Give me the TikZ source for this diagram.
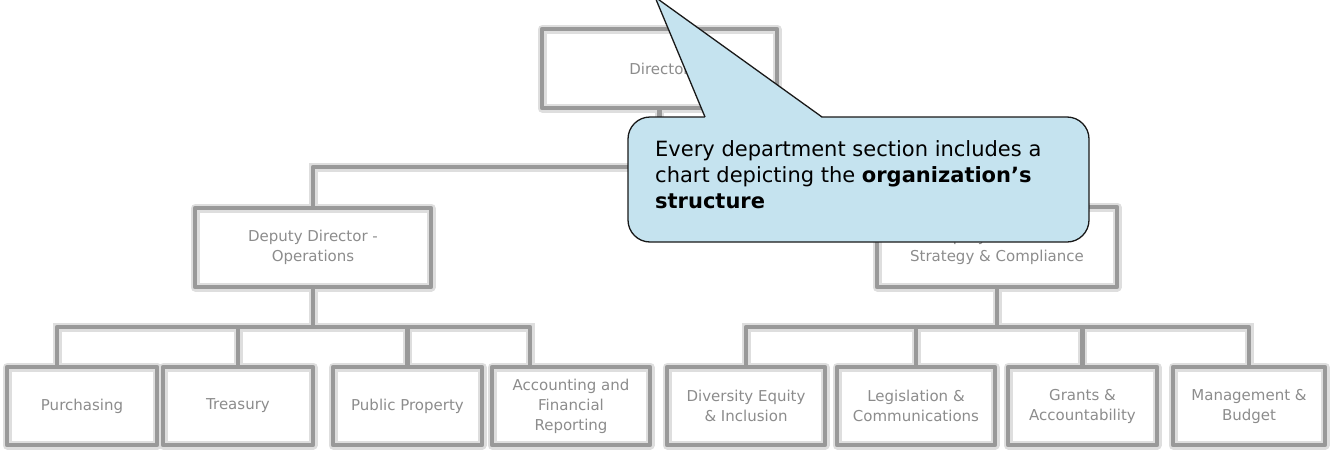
\documentclass[tikz,border=0pt]{standalone}
\usepackage{fontspec}
\setmainfont{DejaVu Sans}
\definecolor{calloutblue}{RGB}{197,227,239}
\begin{document}
\begin{tikzpicture}[x=1pt,y=-1pt,
  chart/.style={draw=black!40, line width=4.5pt, line join=round,
    preaction={draw=black!13, line width=9pt}},
  chartbox/.style={chart, rectangle, inner sep=2pt, align=center,
    font=\fontsize{15}{20}\selectfont, text=black!45},
  callout/.style={fill=calloutblue, draw=black!90, line width=1.3pt}]
\useasboundingbox (0,0) rectangle (1333,450);
% boxes
\node[chartbox, minimum width=235pt, minimum height=79pt] (dir) at (659.5,68.5) {Director};
\node[chartbox, minimum width=236pt, minimum height=79pt] (depops) at (313,247.5) {Deputy Director -\\Operations};
\node[chartbox, minimum width=240pt, minimum height=80pt] (strat) at (997,247) {Deputy Director -\\Strategy \& Compliance};
\node[chartbox, minimum width=150pt, minimum height=78pt] (purch) at (82,406) {Purchasing};
\node[chartbox, minimum width=150pt, minimum height=78pt] (treas) at (238,406) {Treasury};
\node[chartbox, minimum width=149pt, minimum height=78pt] (pub) at (407.5,406) {Public Property};
\node[chartbox, minimum width=158pt, minimum height=78pt] (acct) at (571,406) {Accounting and\\Financial\\Reporting};
\node[chartbox, minimum width=158pt, minimum height=78pt] (div) at (746,406) {Diversity Equity\\\& Inclusion};
\node[chartbox, minimum width=158pt, minimum height=78pt] (leg) at (916,406) {Legislation \&\\Communications};
\node[chartbox, minimum width=149pt, minimum height=78pt] (grant) at (1082.5,406) {Grants \&\\Accountability};
\node[chartbox, minimum width=152pt, minimum height=78pt] (mgmt) at (1249,406) {Management \&\\Budget};
% bus coordinates
\coordinate (tb) at (659.5,167);
\coordinate (lb) at (313,327);
\coordinate (rb) at (997,327);
% connectors
\draw[chart] (depops.north) |- (tb) -| (strat.north) (dir.south) -- (tb);
\draw[chart] ([xshift=-25pt]purch.north) |- (lb) -| ([xshift=-41pt]acct.north)
  (treas.north) -- (treas.north |- lb) (pub.north) -- (pub.north |- lb)
  (depops.south) -- (lb);
\draw[chart] (div.north) |- (rb) -| (mgmt.north)
  (leg.north) -- (leg.north |- rb) (grant.north) -- (grant.north |- rb)
  (strat.south) -- (rb);
% callout
\node[callout, rounded corners=22pt, minimum width=461pt, minimum height=125pt, inner sep=0pt] (cbox) at (858.5,179.5) {};
\coordinate (tip) at (655,-3);
\coordinate (bl) at (705,117);
\coordinate (br) at (822,117);
\fill[calloutblue] ([yshift=-0.8pt]bl) -- (tip) -- ([yshift=-0.8pt]br) -- cycle;
\draw[black!90, line width=1.3pt, line join=miter] (bl) -- (tip) -- (br);
\node[anchor=north west, align=left, inner sep=0pt, font=\fontsize{21}{26}\selectfont] (ctext) at (655,140)
  {Every department section includes a\\chart depicting the \textbf{organization’s}\\\textbf{structure}};
\end{tikzpicture}
\end{document}
